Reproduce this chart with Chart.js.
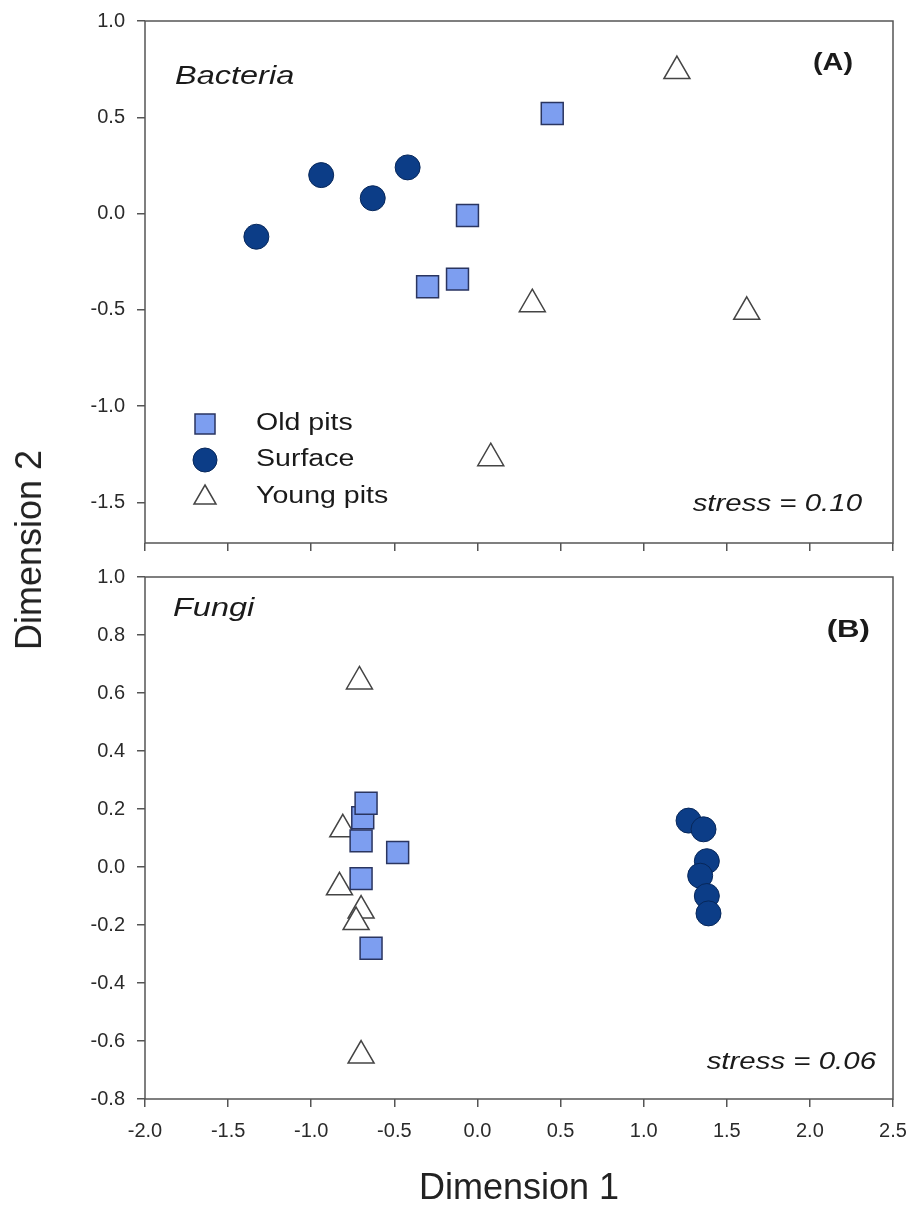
<!DOCTYPE html>
<html>
<head>
<meta charset="utf-8">
<title>NMDS ordination</title>
<script src="https://cdn.jsdelivr.net/npm/chart.js@4.4.0/dist/chart.umd.min.js"></script>
<style>
  html, body { margin: 0; padding: 0; background: #fff; }
  #wrap { position: relative; width: 911px; height: 1209px; overflow: hidden; }
  #boxA { position: absolute; left: 0; top: 0; width: 911px; height: 560px; }
  #boxB { position: absolute; left: 0; top: 560px; width: 911px; height: 649px; }
  #ytitle {
    position: absolute; left: 29px; top: 550px;
    transform: translate(-50%, -50%) rotate(-90deg);
    font: 36px "Liberation Sans", Arial, sans-serif;
    color: #222; white-space: nowrap;
  }
</style>
</head>
<body>
<div id="wrap">
  <div id="boxA"><canvas id="chartA"></canvas></div>
  <div id="boxB"><canvas id="chartB"></canvas></div>
  <div id="ytitle">Dimension 2</div>
</div>
<script>
// Series names
var seriesNames = ['Old pits', 'Surface', 'Young pits'];

// Panel A - Bacteria (Dimension 1 / Dimension 2)
var bactOldX = [0.45, -0.06, -0.30, -0.12];
var bactOldY = [0.52, -0.01, -0.38, -0.34];
var bactSurfX = [-1.33, -0.94, -0.63, -0.42];
var bactSurfY = [-0.12, 0.20, 0.08, 0.24];
var bactYoungX = [1.20, 0.33, 1.62, 0.08];
var bactYoungY = [0.74, -0.47, -0.51, -1.27];

// Panel B - Fungi
var fungOldX = [-0.69, -0.67, -0.70, -0.48, -0.70, -0.64];
var fungOldY = [0.17, 0.22, 0.09, 0.05, -0.04, -0.28];
var fungSurfX = [1.27, 1.36, 1.38, 1.34, 1.38, 1.39];
var fungSurfY = [0.16, 0.13, 0.02, -0.03, -0.10, -0.16];
var fungYoungX = [-0.71, -0.81, -0.83, -0.70, -0.73, -0.70];
var fungYoungY = [0.64, 0.13, -0.07, -0.15, -0.19, -0.65];

// Tick labels
var xTicks = [-2.0, -1.5, -1.0, -0.5, 0.0, 0.5, 1.0, 1.5, 2.0, 2.5];
var yTicksA = [-1.5, -1.0, -0.5, 0.0, 0.5, 1.0];
var yTicksB = [-0.8, -0.6, -0.4, -0.2, 0.0, 0.2, 0.4, 0.6, 0.8, 1.0];

var stressA = 'stress = 0.10';
var stressB = 'stress = 0.06';

var FONT = '"Liberation Sans", Arial, sans-serif';
var AXIS = '#555';

function pts(xs, ys) {
    return xs.map(function (x, i) { return { x: x, y: ys[i] }; });
}

// marker styles, shared by both panels and the legend
var styles = [
    { pointStyle: 'rect', pointRadius: 15.5, backgroundColor: '#7d9ef0', borderColor: '#2a3560', borderWidth: 1.5 },
    { pointStyle: 'circle', pointRadius: 12.5, backgroundColor: '#0c3d87', borderColor: '#07275a', borderWidth: 1 },
    { pointStyle: 'triangle', pointRadius: 15, backgroundColor: '#ffffff', borderColor: '#444', borderWidth: 1.5 }
];

function makeDatasets(groups) {
    return groups.map(function (g, i) {
        var s = styles[i];
        return {
            label: seriesNames[i],
            data: g,
            pointStyle: s.pointStyle,
            pointRadius: s.pointRadius,
            pointHoverRadius: s.pointRadius,
            backgroundColor: s.backgroundColor,
            borderColor: s.borderColor,
            borderWidth: s.borderWidth,
            showLine: false
        };
    });
}

function stretchText(ctx, txt, x, y, font, align, sx) {
    ctx.save();
    ctx.font = font;
    ctx.fillStyle = '#1a1a1a';
    ctx.textBaseline = 'middle';
    ctx.textAlign = align;
    ctx.translate(x, y);
    ctx.scale(sx, 1);
    ctx.fillText(txt, 0, 0);
    ctx.restore();
}

// frame around the plot area + panel labels + optional legend
var panelPlugin = {
    id: 'panel',
    beforeDatasetsDraw: function (chart) {
        var a = chart.chartArea, ctx = chart.ctx;
        ctx.save();
        ctx.strokeStyle = AXIS;
        ctx.lineWidth = 1.5;
        ctx.strokeRect(a.left, a.top, a.right - a.left, a.bottom - a.top);
        ctx.restore();
    },
    afterDraw: function (chart) {
        var ctx = chart.ctx;
        var o = chart.options.plugins.panel;
        o.notes.forEach(function (n) {
            stretchText(ctx, n.text, n.x, n.y, n.font, n.align, n.sx);
        });
        if (!o.legend) return;
        var lg = o.legend;
        seriesNames.forEach(function (name, i) {
            var s = styles[i], y = lg.rows[i], x = lg.x;
            ctx.save();
            ctx.fillStyle = s.backgroundColor;
            ctx.strokeStyle = s.borderColor;
            ctx.lineWidth = s.borderWidth;
            ctx.beginPath();
            if (s.pointStyle === 'rect') {
                ctx.rect(x - 10, y - 10, 20, 20);
            } else if (s.pointStyle === 'circle') {
                ctx.arc(x, y, 12, 0, Math.PI * 2);
            } else {
                ctx.moveTo(x, y - 12);
                ctx.lineTo(x + 11, y + 7);
                ctx.lineTo(x - 11, y + 7);
                ctx.closePath();
            }
            ctx.fill();
            ctx.stroke();
            ctx.restore();
            stretchText(ctx, name, lg.textX, y, '23px ' + FONT, 'left', 1.24);
        });
    }
};

function axisCommon() {
    return {
        grid: { display: true, drawOnChartArea: false, drawTicks: true, tickLength: 8, tickColor: AXIS, lineWidth: 1.5 },
        border: { display: false }
    };
}

function makeChart(id, groups, yMin, yMax, yTicks, opts) {
    var x = axisCommon();
    x.type = 'linear';
    x.min = -2.0;
    x.max = 2.5;
    x.afterBuildTicks = function (scale) { scale.ticks = xTicks.map(function (v) { return { value: v }; }); };
    x.afterFit = function (scale) {
        scale.height = opts.xHeight;
        scale.paddingLeft = 0;
        scale.paddingRight = 0;
    };
    x.ticks = { display: opts.xLabels, padding: 12, color: '#2a2a2a', font: { family: FONT, size: 20 },
        callback: function (v) { return v.toFixed(1); } };
    x.title = opts.xTitle ? { display: true, text: 'Dimension 1', color: '#222', padding: 0,
        font: { family: FONT, size: 36, lineHeight: 1.1 } } : { display: false };

    var y = axisCommon();
    y.type = 'linear';
    y.min = yMin;
    y.max = yMax;
    y.afterBuildTicks = function (scale) { scale.ticks = yTicks.map(function (v) { return { value: v }; }); };
    y.afterFit = function (scale) {
        scale.width = 145;
        scale.paddingTop = 0;
        scale.paddingBottom = 0;
    };
    y.ticks = { padding: 12, color: '#2a2a2a', font: { family: FONT, size: 20 },
        callback: function (v) { return v.toFixed(1); } };

    return new Chart(document.getElementById(id).getContext('2d'), {
        type: 'scatter',
        data: { datasets: makeDatasets(groups) },
        options: {
            responsive: true,
            maintainAspectRatio: false,
            animation: false,
            events: [],
            layout: { padding: { top: opts.padTop, right: 18, left: 0, bottom: 0 } },
            scales: { x: x, y: y },
            plugins: {
                legend: { display: false },
                tooltip: { enabled: false },
                panel: { notes: opts.notes, legend: opts.legend }
            }
        },
        plugins: [panelPlugin]
    });
}

var chartA = makeChart('chartA',
    [pts(bactOldX, bactOldY), pts(bactSurfX, bactSurfY), pts(bactYoungX, bactYoungY)],
    -1.71, 1.0, yTicksA, {
        padTop: 21, xHeight: 13, xLabels: false, xTitle: false,
        notes: [
            { text: 'Bacteria', x: 175, y: 77, font: 'italic 25px ' + FONT, align: 'left', sx: 1.3 },
            { text: '(A)', x: 853, y: 63, font: 'bold 24px ' + FONT, align: 'right', sx: 1.2 },
            { text: stressA, x: 862, y: 505, font: 'italic 23px ' + FONT, align: 'right', sx: 1.28 }
        ],
        legend: { x: 205, textX: 256, rows: [424, 460, 497] }
    });

var chartB = makeChart('chartB',
    [pts(fungOldX, fungOldY), pts(fungSurfX, fungSurfY), pts(fungYoungX, fungYoungY)],
    -0.8, 1.0, yTicksB, {
        padTop: 15, xHeight: 110, xLabels: true, xTitle: true,
        notes: [
            { text: 'Fungi', x: 173, y: 49, font: 'italic 25px ' + FONT, align: 'left', sx: 1.3 },
            { text: '(B)', x: 870, y: 70, font: 'bold 24px ' + FONT, align: 'right', sx: 1.3 },
            { text: stressB, x: 876, y: 503, font: 'italic 23px ' + FONT, align: 'right', sx: 1.28 }
        ],
        legend: null
    });
</script>
</body>
</html>
